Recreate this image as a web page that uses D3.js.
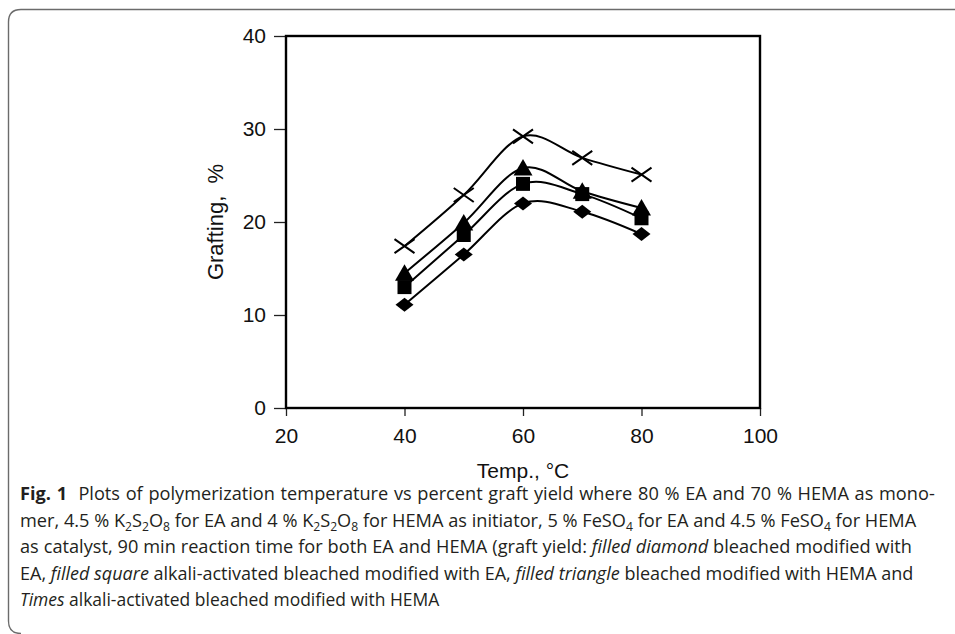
<!DOCTYPE html>
<html lang="en">
<head>
    <meta charset="UTF-8">
    <title>Grafting vs temperature</title>
    <style>
        html, body { margin: 0; padding: 0; background: #fff; }
        #chart-wrapper { width: 955px; height: 634px; }
        .tick text { font-family: 'Liberation Sans', Arial, sans-serif; }
    </style>
</head>
<body>
    <div id="chart-wrapper"></div>

    <script src="https://d3js.org/d3.v7.min.js"></script>
    <script>
        // values
        const temps = [40, 50, 60, 70, 80]
        const diamond = [11.1, 16.5, 22.0, 21.1, 18.7]   // bleached + EA
        const square = [13.0, 18.6, 24.1, 23.0, 20.4]    // alkali-activated + EA
        const triangle = [14.5, 19.9, 25.8, 23.3, 21.5]  // bleached + HEMA
        const times = [17.4, 22.9, 29.2, 26.9, 25.1]     // alkali-activated + HEMA
        const xTicks = [20, 40, 60, 80, 100]
        const yTicks = [0, 10, 20, 30, 40]

        const W = 955
        const H = 634
        const plot = { left: 286, right: 760, top: 36, bottom: 408 }

        const svg = d3.select('#chart-wrapper')
            .append('svg')
            .attr('width', W)
            .attr('height', H)

        // rounded figure frame (open on the right)
        svg.append('path')
            .attr('d', 'M955,9.5 H21 Q8.5,9.5 8.5,22 V621 Q8.5,633.5 21,633.5')
            .attr('fill', 'none')
            .attr('stroke', '#6b6b6b')
            .attr('stroke-width', 1.4)

        const x = d3.scaleLinear().domain([20, 100]).range([plot.left, plot.right])
        const y = d3.scaleLinear().domain([0, 40]).range([plot.bottom, plot.top])

        const xAxis = svg.append('g')
            .attr('transform', `translate(0, ${ plot.bottom })`)
            .call(d3.axisBottom(x).tickValues(xTicks).tickSize(8).tickPadding(12))
        const yAxis = svg.append('g')
            .attr('transform', `translate(${ plot.left }, 0)`)
            .call(d3.axisLeft(y).tickValues(yTicks).tickSize(12).tickPadding(8))

        ;[xAxis, yAxis].forEach(g => {
            g.select('.domain').remove()
            g.selectAll('.tick line').attr('stroke', '#222').attr('stroke-width', 1.3)
            g.selectAll('.tick text')
                .attr('fill', '#111')
                .style('font-size', '21px')
        })

        // plot area box
        svg.append('rect')
            .attr('x', x(20))
            .attr('y', y(40))
            .attr('width', x(100) - x(20))
            .attr('height', y(0) - y(40))
            .attr('fill', 'none')
            .attr('stroke', '#000')
            .attr('stroke-width', 2.4)

        // axis titles
        svg.append('text')
            .attr('x', (plot.left + plot.right) / 2)
            .attr('y', 478)
            .attr('text-anchor', 'middle')
            .style('font-family', "'Liberation Sans', Arial, sans-serif")
            .style('font-size', '21px')
            .attr('fill', '#111')
            .text('Temp., \u00B0C')

        svg.append('text')
            .attr('transform', `translate(223, ${ (plot.top + plot.bottom) / 2 }) rotate(-90)`)
            .attr('text-anchor', 'middle')
            .attr('xml:space', 'preserve')
            .style('white-space', 'pre')
            .style('font-family', "'Liberation Sans', Arial, sans-serif")
            .style('font-size', '22px')
            .attr('fill', '#111')
            .text('Grafting,  %')

        // series
        const series = [
            { name: 'diamond', values: diamond },
            { name: 'square', values: square },
            { name: 'triangle', values: triangle },
            { name: 'times', values: times }
        ]

        const line = d3.line()
            .x(d => x(d[0]))
            .y(d => y(d[1]))
            .curve(d3.curveCardinal.tension(0))

        series.forEach(s => {
            const pts = temps.map((t, i) => [t, s.values[i]])
            svg.append('path')
                .datum(pts)
                .attr('d', line)
                .attr('fill', 'none')
                .attr('stroke', '#000')
                .attr('stroke-width', 2)
        })

        const shapes = {
            diamond: 'M0,-7 L9,0 L0,7 L-9,0 Z',
            square: 'M-7,-7 H7 V7 H-7 Z',
            triangle: 'M0,-9 L9.5,7.5 L-9.5,7.5 Z',
            times: 'M-10,-7 L10,7 M-10,7 L10,-7'
        }

        series.forEach(s => {
            svg.append('g')
                .selectAll('path')
                .data(temps.map((t, i) => [t, s.values[i]]))
                .enter()
                .append('path')
                .attr('transform', d => `translate(${ x(d[0]) }, ${ y(d[1]) })`)
                .attr('d', shapes[s.name])
                .attr('fill', s.name === 'times' ? 'none' : '#000')
                .attr('stroke', '#000')
                .attr('stroke-width', s.name === 'times' ? 2 : 0)
        })

        // caption
        const captionLines = [
            { w: 916, parts: [['Fig. 1', 'b'], ['  Plots of polymerization temperature vs percent graft yield where 80 % EA and 70 % HEMA as mono-']] },
            { w: 898, parts: [['mer, 4.5 % K'], ['2', 's'], ['S'], ['2', 's'], ['O'], ['8', 's'], [' for EA and 4 % K'], ['2', 's'], ['S'], ['2', 's'], ['O'], ['8', 's'], [' for HEMA as initiator, 5 % FeSO'], ['4', 's'], [' for EA and 4.5 % FeSO'], ['4', 's'], [' for HEMA']] },
            { w: 893, parts: [['as catalyst, 90 min reaction time for both EA and HEMA (graft yield: '], ['filled diamond', 'i'], [' bleached modified with']] },
            { w: 894, parts: [['EA, '], ['filled square', 'i'], [' alkali-activated bleached modified with EA, '], ['filled triangle', 'i'], [' bleached modified with HEMA and']] },
            { w: 364, parts: [['Times', 'i'], [' alkali-activated bleached modified with HEMA']] }
        ]
        const baselines = [500, 527, 553, 580, 606]

        const capTexts = captionLines.map((ln, i) => {
            const t = svg.append('text')
                .attr('x', 0)
                .attr('y', 0)
                .attr('xml:space', 'preserve')
                .style('white-space', 'pre')
                .style('font-family', "'Open Sans', 'Noto Sans', sans-serif")
                .style('font-size', '18px')
                .attr('fill', '#231f20')
            let shifted = false
            ln.parts.forEach(p => {
                const sp = t.append('tspan').text(p[0])
                if (p[1] === 'b') sp.style('font-weight', 'bold')
                if (p[1] === 'i') sp.style('font-style', 'italic')
                if (p[1] === 's') {
                    sp.attr('dy', shifted ? 0 : 4).style('font-size', '12px')
                    shifted = true
                } else if (shifted) {
                    sp.attr('dy', -4)
                    shifted = false
                }
            })
            return t
        })

        // common horizontal squeeze; widen spaces where a line is short,
        // keep the glyphs close to the same squeeze where a line is long
        const natural = capTexts.map(t => t.node().getBBox().width)
        const squeeze = d3.median(captionLines.map((ln, i) => ln.w / natural[i]))
        capTexts.forEach((t, i) => {
            const target = captionLines[i].w
            let s = squeeze
            if (natural[i] * squeeze > target) {
                s = Math.max(target / natural[i], squeeze * 0.96)
            } else {
                const spaces = captionLines[i].parts.map(p => p[0]).join('').split(' ').length - 1
                t.style('word-spacing', `${ (target / squeeze - natural[i]) / spaces }px`)
            }
            t.attr('transform', `translate(20, ${ baselines[i] }) scale(${ s }, 1)`)
        })
    </script>
</body>
</html>
